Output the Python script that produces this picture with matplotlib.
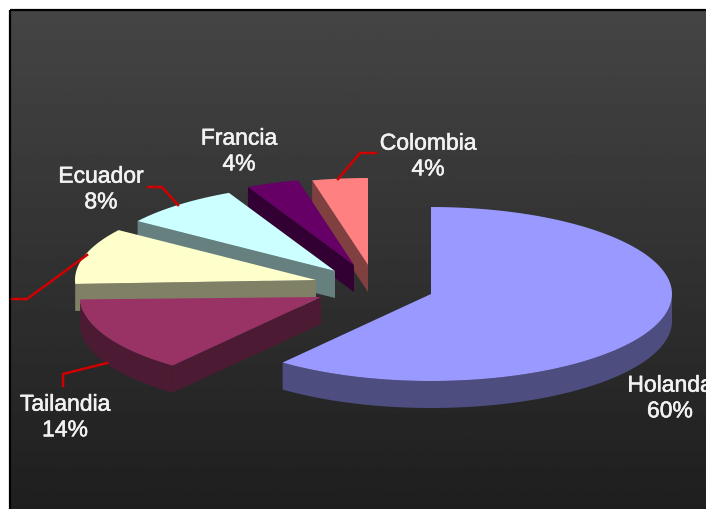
import numpy as np
import matplotlib
matplotlib.use("Agg")
from matplotlib import pyplot as plt
from matplotlib import patheffects as pe
from matplotlib.patches import Polygon, Rectangle

plt.rcParams['font.family'] = ['Liberation Sans', 'DejaVu Sans']

# shares in percent, clockwise from 12 o'clock
countries = ['Holanda', 'Tailandia', '', 'Ecuador', 'Francia', 'Colombia']
shares = [60, 14, 10, 8, 4, 4]

top_colors = ['#9999ff', '#993366', '#ffffcc', '#ccffff', '#660066', '#ff8080']
side_colors = ['#4d4d80', '#4d1a33', '#808066', '#668080', '#330033', '#804040']

# apex of every exploded slice, in pixels
apex = [(431, 295), (321, 298), (316, 281), (335, 272), (354, 266), (368, 266)]
# small angle corrections per slice edge, the 3D view bends the edges a little
bend = [(0, 2), (2, 2), (1, 2.6), (2.6, 2.7), (2.7, 1), (1, 0)]
RX, RY, DEPTH = 241, 87, 27

W, H = 706, 510
fig = plt.figure(figsize=(W / 100, H / 100), dpi=100, facecolor='white')
ax = fig.add_axes([0, 0, 1, 1])

# panel with vertical gradient
grad = np.linspace(0.27, 0.12, 256).reshape(-1, 1)
ax.imshow(grad, extent=(10, W, H, 11), cmap='gray', vmin=0, vmax=1, aspect='auto', zorder=0)
ax.set_xlim(0, W)
ax.set_ylim(H, 0)
ax.axis('off')
ax.add_patch(Rectangle((10, 11), W + 10, H + 10, fc='none', ec='#000000', lw=1.6, zorder=50))


def arc(c, a0, a1, n=120):
    t = np.radians(np.linspace(a0, a1, n))
    return np.column_stack([c[0] + RX * np.sin(t), c[1] - RY * np.cos(t)])


def draw_slice(c, a0, a1, top, side, z):
    # radial wall on the leading edge, hidden for the big slice
    if 180 < a0 < 360:
        outer = arc(c, a0, a0, 1)[0]
        wall = [c, outer, (outer[0], outer[1] + DEPTH), (c[0], c[1] + DEPTH)]
        ax.add_patch(Polygon(wall, fc=side, ec='none', zorder=z))
    # curved wall, only the part facing the viewer
    lo, hi = max(a0, 90), min(a1, 270)
    if lo < hi:
        pts = arc(c, lo, hi)
        low = pts + [0, DEPTH]
        ax.add_patch(Polygon(np.vstack([pts, low[::-1]]), fc=side, ec='none', zorder=z))
    pts = np.vstack([[c], arc(c, a0, a1)])
    ax.add_patch(Polygon(pts, fc=top, ec='none', zorder=z + 0.5))


edges = np.cumsum([0] + shares) * 3.6
# back slices first, Holanda last
for i in [5, 4, 3, 2, 1, 0]:
    draw_slice(apex[i], edges[i] + bend[i][0], edges[i + 1] + bend[i][1],
               top_colors[i], side_colors[i], 10 + (5 - i))

# leader lines
leaders = [
    ([12, 27, 87], [300, 300, 256]),
    ([148, 162, 178], [188, 188, 206]),
    ([376, 360, 338], [154, 154, 180]),
    ([63, 63, 107], [387, 375, 364]),
]
for xs, ys in leaders:
    ax.plot(xs, ys, color='#d00000', lw=1.8, solid_joinstyle='miter', zorder=30)

# data labels
label_pos = {'Holanda': (670, 399), 'Tailandia': (65, 418), 'Ecuador': (101, 190),
             'Francia': (239, 152), 'Colombia': (428, 157)}
for name, share in zip(countries, shares):
    if name:
        x, y = label_pos[name]
        ax.text(x, y, f'{name}\n{share}%', color='#f2f2f2', fontsize=16.5, ha='center',
                va='center', linespacing=1.15, zorder=40, clip_on=True,
                path_effects=[pe.withStroke(linewidth=0.4, foreground='#f2f2f2')])

fig.savefig('out.png', dpi=100, facecolor='white')
